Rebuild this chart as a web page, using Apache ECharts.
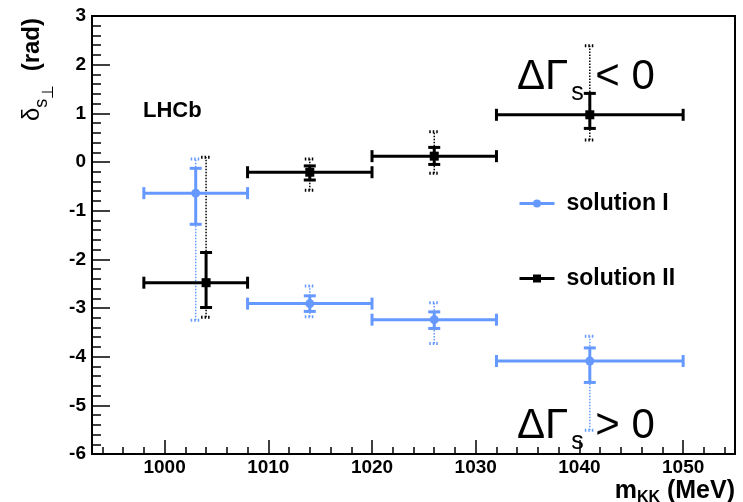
<!DOCTYPE html>
<html>
<head>
<meta charset="utf-8">
<script src="https://cdn.jsdelivr.net/npm/echarts@6/dist/echarts.min.js"></script>
<style>html,body{margin:0;padding:0;background:#fff}#c{width:743px;height:502px}</style>
</head>
<body>
<div id="c"></div>
<script>
// ---- data ----
const binLo = [998, 1008, 1020, 1032];
const binHi = [1008, 1020, 1032, 1050];

const solIx = [1003, 1014, 1026, 1041];
const solIy = [-0.64, -2.91, -3.24, -4.09];
const solIstatLo = [-1.28, -3.07, -3.42, -4.53];
const solIstatHi = [-0.13, -2.75, -3.08, -3.82];
const solItotLo = [-3.25, -3.18, -3.73, -5.51];
const solItotHi = [0.06, -2.55, -2.89, -3.58];

const solIIx = [1004, 1014, 1026, 1041];
const solIIy = [-2.48, -0.21, 0.12, 0.97];
const solIIstatLo = [-2.99, -0.37, -0.05, 0.69];
const solIIstatHi = [-1.86, -0.08, 0.30, 1.41];
const solIItotLo = [-3.19, -0.58, -0.23, 0.45];
const solIItotHi = [0.10, 0.06, 0.62, 2.39];

const xMajorTicks = [1000, 1010, 1020, 1030, 1040, 1050];
const xMinorTicks = [994, 996, 998, 1002, 1004, 1006, 1008, 1012, 1014, 1016, 1018, 1022, 1024, 1026, 1028, 1032, 1034, 1036, 1038, 1042, 1044, 1046, 1048, 1052, 1054];
const yMinorTicks = [-5.8, -5.6, -5.4, -5.2, -4.8, -4.6, -4.4, -4.2, -3.8, -3.6, -3.4, -3.2, -2.8, -2.6, -2.4, -2.2, -1.8, -1.6, -1.4, -1.2, -0.8, -0.6, -0.4, -0.2, 0.2, 0.4, 0.6, 0.8, 1.2, 1.4, 1.6, 1.8, 2.2, 2.4, 2.6, 2.8];

const blue = '#6699ff';
const black = '#000000';
const FONT = 'Liberation Sans, Arial, Helvetica, sans-serif';

function rows(xs, ys, lo, hi, a, b) {
  return xs.map((x, i) => [x, ys[i], lo[i], hi[i], a[i], b[i]]);
}
const solIStat = rows(solIx, solIy, binLo, binHi, solIstatLo, solIstatHi);
const solIIStat = rows(solIIx, solIIy, binLo, binHi, solIIstatLo, solIIstatHi);
const solITot = solIx.map((x, i) => [x, solIy[i], solItotLo[i], solItotHi[i]]);
const solIITot = solIIx.map((x, i) => [x, solIIy[i], solIItotLo[i], solIItotHi[i]]);

function statRender(color) {
  return function (params, api) {
    const x = api.value(0), y = api.value(1);
    const c = api.coord([x, y]);
    const l = api.coord([api.value(2), y]);
    const r = api.coord([api.value(3), y]);
    const lo = api.coord([x, api.value(4)]);
    const hi = api.coord([x, api.value(5)]);
    const st = { stroke: color, lineWidth: 3 };
    const cap = 6;
    const L = (x1, y1, x2, y2) => ({ type: 'line', shape: { x1, y1, x2, y2 }, style: st });
    return {
      type: 'group',
      children: [
        L(l[0], c[1], r[0], c[1]),
        L(l[0], c[1] - cap, l[0], c[1] + cap),
        L(r[0], c[1] - cap, r[0], c[1] + cap),
        L(c[0], lo[1], c[0], hi[1]),
        L(c[0] - cap, lo[1], c[0] + cap, lo[1]),
        L(c[0] - cap, hi[1], c[0] + cap, hi[1])
      ]
    };
  };
}
function totRender(color) {
  return function (params, api) {
    const x = api.value(0);
    const lo = api.coord([x, api.value(2)]);
    const hi = api.coord([x, api.value(3)]);
    const st = { stroke: color, lineWidth: 1.5, lineDash: [1.5, 1.5] };
    const cst = { stroke: color, lineWidth: 3, lineDash: [1.5, 2] };
    const cap = 5;
    return {
      type: 'group',
      children: [
        { type: 'line', shape: { x1: lo[0], y1: lo[1], x2: hi[0], y2: hi[1] }, style: st },
        { type: 'line', shape: { x1: lo[0] - cap, y1: lo[1], x2: lo[0] + cap, y2: lo[1] }, style: cst },
        { type: 'line', shape: { x1: hi[0] - cap, y1: hi[1], x2: hi[0] + cap, y2: hi[1] }, style: cst }
      ]
    };
  };
}

const chart = echarts.init(document.getElementById('c'), null, { renderer: 'canvas' });
const tickLabel = { color: '#000', fontFamily: FONT, fontWeight: 'bold', fontSize: 19 };

chart.setOption({
  animation: false,
  backgroundColor: '#fff',
  grid: { left: 92, right: 8, top: 16, bottom: 48, outerBoundsMode: 'none', containLabel: false,
          show: true, borderColor: '#000', borderWidth: 2, backgroundColor: 'transparent' },
  legend: {
    left: 518, top: 192, orient: 'vertical', itemGap: 52, padding: 0,
    itemWidth: 35, itemHeight: 10,
    textStyle: { color: '#000', fontFamily: FONT, fontWeight: 'bold', fontSize: 23, padding: [0, 0, 0, 7] },
    lineStyle: { width: 3, opacity: 1, type: 'solid' },
    data: ['solution I', 'solution II']
  },
  xAxis: [{
    type: 'value', min: 993, max: 1055,
    axisLine: { show: true, onZero: false, lineStyle: { color: '#000', width: 2 } },
    axisTick: { show: true, inside: true, length: 14, customValues: xMajorTicks, lineStyle: { color: '#000', width: 1.5 } },
    axisLabel: Object.assign({ margin: 4, customValues: xMajorTicks, formatter: v => String(v) }, tickLabel),
    splitLine: { show: false },
    name: '{b|m}{k|KK}{b| (MeV)}',
    nameLocation: 'end', nameGap: 0,
    nameTextStyle: {
      align: 'right', verticalAlign: 'top', padding: [22, 0, 0, 0],
      rich: {
        b: { fontFamily: FONT, fontWeight: 'bold', fontSize: 25, color: '#000' },
        k: { fontFamily: FONT, fontWeight: 'bold', fontSize: 16, color: '#000', padding: [14, 0, 0, 0] }
      }
    }
  }, {
    type: 'value', min: 993, max: 1055, position: 'bottom', offset: 0,
    axisLine: { show: false, onZero: false },
    axisTick: { show: true, inside: true, length: 7, customValues: xMinorTicks, lineStyle: { color: '#000', width: 1.5 } },
    axisLabel: { show: false },
    splitLine: { show: false }
  }],
  yAxis: [{
    type: 'value', min: -6, max: 3, interval: 1,
    axisLine: { show: true, onZero: false, lineStyle: { color: '#000', width: 2 } },
    axisTick: { show: true, inside: true, length: 18, lineStyle: { color: '#000', width: 1.5 } },
    axisLabel: Object.assign({ margin: 6 }, tickLabel),
    splitLine: { show: false },
    name: '{d|δ}{s|s}{p|⊥}{r|  (rad)}',
    nameLocation: 'end', nameRotate: 90, nameGap: -2,
    nameTextStyle: {
      align: 'right', verticalAlign: 'bottom', padding: [0, 0, 35, 0],
      rich: {
        d: { fontFamily: FONT, fontSize: 24, color: '#000' },
        s: { fontFamily: FONT, fontSize: 18, color: '#000', padding: [20, 0, 0, 0] },
        p: { fontFamily: FONT, fontSize: 16, color: '#000', padding: [34, 0, 0, 0] },
        r: { fontFamily: FONT, fontWeight: 'bold', fontSize: 24, color: '#000' }
      }
    }
  }, {
    type: 'value', min: -6, max: 3, position: 'left', offset: 0,
    axisLine: { show: false, onZero: false },
    axisTick: { show: true, inside: true, length: 9, customValues: yMinorTicks, lineStyle: { color: '#000', width: 1.5 } },
    axisLabel: { show: false },
    splitLine: { show: false }
  }],
  graphic: [
    { type: 'text', left: 143, top: 100, style: { text: 'LHCb', fill: '#000', font: 'bold 22px ' + FONT } },
    { type: 'text', left: 517, top: 56, style: {
      text: '{a|ΔΓ}{s|s}{a| < 0}',
      rich: {
        a: { fontFamily: FONT, fontSize: 42, color: '#000' },
        s: { fontFamily: FONT, fontSize: 25, color: '#000', padding: [32, 0, 0, 3] }
      } } },
    { type: 'text', left: 517, top: 405, style: {
      text: '{a|ΔΓ}{s|s}{a| > 0}',
      rich: {
        a: { fontFamily: FONT, fontSize: 42, color: '#0000ff' },
        s: { fontFamily: FONT, fontSize: 25, color: '#0000ff', padding: [32, 0, 0, 3] }
      } } }
  ],
  series: [
    { type: 'custom', name: 'totI', renderItem: totRender(blue), data: solITot, encode: { x: 0, y: [2, 3] }, z: 2, silent: true },
    { type: 'custom', name: 'totII', renderItem: totRender(black), data: solIITot, encode: { x: 0, y: [2, 3] }, z: 2, silent: true },
    { type: 'custom', name: 'statI', renderItem: statRender(blue), data: solIStat, encode: { x: [0, 2, 3], y: [1, 4, 5] }, z: 3, silent: true },
    { type: 'custom', name: 'statII', renderItem: statRender(black), data: solIIStat, encode: { x: [0, 2, 3], y: [1, 4, 5] }, z: 3, silent: true },
    { type: 'line', name: 'solution I', data: solIx.map((x, i) => [x, solIy[i]]),
      symbol: 'circle', symbolSize: 9, showSymbol: true, color: blue,
      itemStyle: { color: blue }, lineStyle: { color: blue, width: 3, opacity: 0 }, z: 4 },
    { type: 'line', name: 'solution II', data: solIIx.map((x, i) => [x, solIIy[i]]),
      symbol: 'rect', symbolSize: 9, showSymbol: true, color: black,
      itemStyle: { color: black }, lineStyle: { color: black, width: 3, opacity: 0 }, z: 4 }
  ]
});
</script>
</body>
</html>
